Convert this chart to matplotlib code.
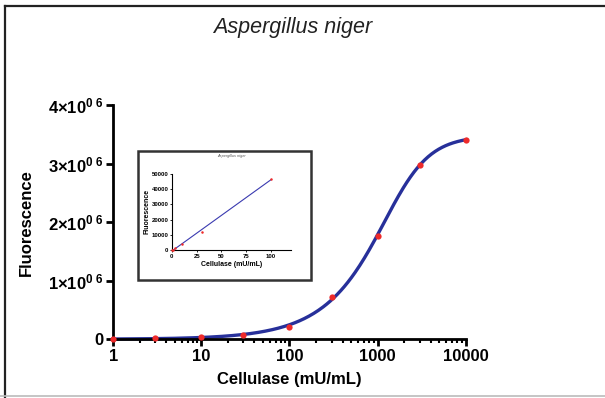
import numpy as np
import matplotlib
matplotlib.use("Agg")
import matplotlib.pyplot as plt
from matplotlib.lines import Line2D
from matplotlib.patches import Rectangle
from matplotlib.ticker import FixedLocator, LogLocator, NullFormatter

plt.rcParams['font.family'] = ['Liberation Sans', 'DejaVu Sans']
plt.rcParams['mathtext.fontset'] = 'custom'
plt.rcParams['mathtext.rm'] = 'Liberation Sans'
plt.rcParams['mathtext.bf'] = 'Liberation Sans:bold'

# main dose-response data
conc = [1, 3, 10, 30, 100, 300, 1000, 3000, 10000]
fluor = [0.0, 0.02e6, 0.04e6, 0.07e6, 0.20e6, 0.72e6, 1.76e6, 2.98e6, 3.41e6]
yticks = [0, 1e6, 2e6, 3e6, 4e6]
ylabels = ['0', r'$\mathbf{1{\times}10^{0\ 6}}$', r'$\mathbf{2{\times}10^{0\ 6}}$',
           r'$\mathbf{3{\times}10^{0\ 6}}$', r'$\mathbf{4{\times}10^{0\ 6}}$']
xticks = [1, 10, 100, 1000, 10000]

# inset (linear range) data
conc_lin = [0, 1, 3, 10, 30, 100]
fluor_lin = [0, 400, 1200, 4000, 12000, 46500]

blue = '#27309a'
red = '#ee2a2a'


def fit_5pl(x, y):
    # asymmetric logistic: grid on EC50 / hill / asymmetry,
    # bottom and top from closed-form linear least squares
    lx = np.log10(x)
    lec = np.linspace(2.0, 4.5, 126)[:, None, None, None]
    hill = np.linspace(0.5, 4.0, 71)[None, :, None, None]
    asym = np.linspace(0.2, 3.0, 29)[None, None, :, None]
    f = 1.0 / (1.0 + 10 ** ((lec - lx) * hill)) ** asym
    g = 1 - f
    # normal equations for y = bot*g + top*f
    a11 = (g * g).sum(-1); a12 = (g * f).sum(-1); a22 = (f * f).sum(-1)
    b1 = (g * y).sum(-1); b2 = (f * y).sum(-1)
    det = a11 * a22 - a12 ** 2
    bot = (a22 * b1 - a12 * b2) / det
    top = (a11 * b2 - a12 * b1) / det
    err = (((bot[..., None] * g + top[..., None] * f) - y) ** 2).sum(-1)
    i, j, k = np.unravel_index(np.nanargmin(err), err.shape)
    return lec[i, 0, 0, 0], hill[0, j, 0, 0], asym[0, 0, k, 0], bot[i, j, k], top[i, j, k]


fig = plt.figure(figsize=(6.05, 3.98), dpi=100)

# figure frame (top, left dark; bottom light grey)
fig.add_artist(Line2D([0.0083, 1.0], [0.985, 0.985], transform=fig.transFigure, color='#222222', lw=1.6))
fig.add_artist(Line2D([0.0083, 0.0083], [0.0, 0.985], transform=fig.transFigure, color='#222222', lw=1.6))
fig.add_artist(Line2D([0.0, 1.0], [0.006, 0.006], transform=fig.transFigure, color='#bbbbbb', lw=1.2))

ax = fig.add_axes([0.187, 0.148, 0.583, 0.588])
lec, h, s, bot, top = fit_5pl(np.array(conc, float), np.array(fluor, float))
xs = np.logspace(0, 4, 300)
ys = bot + (top - bot) / (1 + 10 ** ((lec - np.log10(xs)) * h)) ** s
ax.plot(xs, ys, color=blue, lw=2.4, zorder=2, clip_on=False)
ax.plot(conc, fluor, 'o', color=red, ms=4.5, mec='none', zorder=3, clip_on=False)

ax.set_xscale('log')
ax.set_xlim(1, 10000)
ax.set_ylim(0, 4e6)
ax.xaxis.set_major_locator(FixedLocator(xticks))
ax.set_xticklabels([str(t) for t in xticks])
ax.xaxis.set_minor_locator(LogLocator(base=10, subs=np.arange(2, 10)))
ax.xaxis.set_minor_formatter(NullFormatter())
ax.set_yticks(yticks)
ax.set_yticklabels(ylabels)
for sp in ['top', 'right']:
    ax.spines[sp].set_visible(False)
for sp in ['left', 'bottom']:
    ax.spines[sp].set_linewidth(2)
ax.tick_params(axis='both', which='major', width=2, length=5, labelsize=12, pad=2)
ax.tick_params(axis='x', which='minor', width=1.5, length=3)
for lab in ax.get_xticklabels() + ax.get_yticklabels():
    lab.set_fontweight('bold')
ax.set_xlabel('Cellulase (mU/mL)', fontsize=12, fontweight='bold', labelpad=6)
ax.set_ylabel('Fluorescence', fontsize=12, fontweight='bold', labelpad=10)
fig.text(0.483, 0.93, 'Aspergillus niger', ha='center', va='center', fontsize=15.5, style='italic', color='#222222')

# inset frame and axes
fig.add_artist(Rectangle((0.228, 0.296), 0.286, 0.324, transform=fig.transFigure,
                         fill=False, edgecolor='#333333', lw=1.8))
ins = fig.add_axes([0.284, 0.371, 0.197, 0.193])
m, c = np.polyfit(conc_lin, fluor_lin, 1)
xl = np.array([0, 100])
ins.plot(xl, m * xl + c, color='#3a3ab0', lw=0.8, zorder=2)
ins.plot(conc_lin, fluor_lin, 'o', color=red, ms=1.8, mec='none', zorder=3, clip_on=False)
ins.set_xlim(0, 120)
ins.set_ylim(0, 50000)
ins.set_xticks([0, 25, 50, 75, 100])
ins.set_yticks([0, 10000, 20000, 30000, 40000, 50000])
for sp in ['top', 'right']:
    ins.spines[sp].set_visible(False)
for sp in ['left', 'bottom']:
    ins.spines[sp].set_linewidth(0.8)
ins.tick_params(axis='both', width=0.6, length=1.5, labelsize=4.3, pad=1)
for lab in ins.get_xticklabels() + ins.get_yticklabels():
    lab.set_fontweight('bold')
ins.set_xlabel('Cellulase (mU/mL)', fontsize=5, fontweight='bold', labelpad=1.5)
ins.set_ylabel('Fluorescence', fontsize=5, fontweight='bold', labelpad=1)
ins.set_title('Aspergillus niger', fontsize=2.8, style='italic', pad=12, color='#555555')

fig.savefig('out.png', dpi=100)
